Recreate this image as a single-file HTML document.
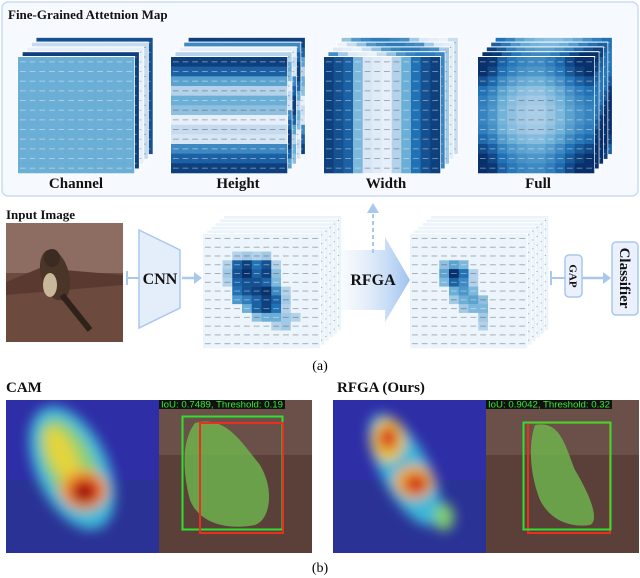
<!DOCTYPE html>
<html><head><meta charset="utf-8">
<style>
html,body{margin:0;padding:0;background:#fff;}
svg{display:block;}
.t{font-family:"Liberation Serif",serif;font-weight:bold;fill:#111;}
</style></head>
<body>
<svg id="fig" width="640" height="578" viewBox="0 0 640 578" xmlns="http://www.w3.org/2000/svg">
<defs>
  <linearGradient id="rfgaGrad" x1="0" x2="1" y1="0" y2="0">
    <stop offset="0" stop-color="#dbe8f8" stop-opacity="0.2"/>
    <stop offset="1" stop-color="#9fc3ef"/>
  </linearGradient>
  <filter id="blur6"><feGaussianBlur stdDeviation="6"/></filter>
  <filter id="blur3"><feGaussianBlur stdDeviation="3"/></filter>
  <clipPath id="clipCam"><rect x="6" y="400" width="153" height="153"/></clipPath>
  <clipPath id="clipRfga"><rect x="333" y="400" width="153" height="153"/></clipPath>
</defs>

<rect x="2" y="2" width="636" height="194" rx="6" fill="#f6f9fe" stroke="#c9dcf3" stroke-width="1.5"/>
<text class="t" x="8" y="19" font-size="13">Fine-Grained Attetnion Map</text>
<g id="stacks"></g>
<text class="t" x="76" y="188" font-size="15" text-anchor="middle">Channel</text>
<text class="t" x="238" y="188" font-size="15" text-anchor="middle">Height</text>
<text class="t" x="386" y="188" font-size="15" text-anchor="middle">Width</text>
<text class="t" x="538" y="188" font-size="15" text-anchor="middle">Full</text>

<text class="t" x="6" y="219" font-size="13">Input Image</text>
<g>
  <rect x="6" y="223" width="117" height="119" fill="#6d4a3e"/>
  <rect x="6" y="223" width="117" height="50" fill="#8d6d62"/>
  <polygon points="6,282 40,268 123,275 123,285 6,295" fill="#5a3a30"/>
  <ellipse cx="55" cy="275" rx="14" ry="26" fill="#4a3528" transform="rotate(-15 55 275)"/>
  <ellipse cx="52" cy="258" rx="8" ry="9" fill="#3b2b22"/>
  <ellipse cx="50" cy="285" rx="7" ry="12" fill="#c9b79a"/>
  <line x1="62" y1="295" x2="90" y2="330" stroke="#2e221b" stroke-width="6"/>
</g>
<line x1="127" y1="271" x2="127" y2="285" stroke="#a9c8ee" stroke-width="2"/>
<line x1="127" y1="278" x2="139" y2="278" stroke="#a9c8ee" stroke-width="2"/>
<polygon points="139,230 180,250 180,308 139,328" fill="#e4eefb" stroke="#a9c8ee" stroke-width="1.5"/>
<text class="t" x="160" y="284" font-size="16" text-anchor="middle">CNN</text>
<line x1="182" y1="278" x2="196" y2="278" stroke="#a9c8ee" stroke-width="2.5"/>
<polygon points="194,272 202,278 194,284" fill="#a9c8ee"/>
<g id="features"></g>
<polygon points="342,250 385,250 385,237 410,280 385,322 385,310 342,310" fill="url(#rfgaGrad)"/>
<text class="t" x="373" y="285" font-size="16" text-anchor="middle">RFGA</text>
<line x1="373" y1="253" x2="373" y2="212" stroke="#a9c8ee" stroke-width="2" stroke-dasharray="4,3"/>
<polygon points="367,213 373,203 379,213" fill="#a9c8ee"/>
<line x1="551" y1="271" x2="551" y2="285" stroke="#a9c8ee" stroke-width="2"/>
<line x1="551" y1="278" x2="565" y2="278" stroke="#a9c8ee" stroke-width="2"/>
<rect x="565" y="255" width="17" height="42" rx="4" fill="#eaf1fc" stroke="#a9c8ee" stroke-width="1.5"/>
<text class="t" x="573.5" y="276" font-size="11" text-anchor="middle" transform="rotate(90 573.5 276)" dy="4">GAP</text>
<line x1="582" y1="278" x2="605" y2="278" stroke="#a9c8ee" stroke-width="2.5"/>
<polygon points="603,272 611,278 603,284" fill="#a9c8ee"/>
<rect x="612" y="242" width="26" height="73" rx="4" fill="#eaf1fc" stroke="#a9c8ee" stroke-width="1.5"/>
<text class="t" x="625" y="278" font-size="15" text-anchor="middle" dy="5" transform="rotate(90 625 278)">Classifier</text>
<text x="320" y="370" font-size="14" text-anchor="middle" font-family="Liberation Serif,serif">(a)</text>

<text class="t" x="6" y="392" font-size="15">CAM</text>
<text class="t" x="337" y="392" font-size="15">RFGA (Ours)</text>

<g clip-path="url(#clipCam)">
  <rect x="6" y="400" width="153" height="153" fill="#2e2ea6"/>
  <rect x="6" y="480" width="153" height="73" fill="#2a3296"/>
  <g filter="url(#blur6)">
    <ellipse cx="72" cy="468" rx="36" ry="66" fill="#3fb8d8" transform="rotate(-25 72 468)"/>
    <ellipse cx="70" cy="465" rx="24" ry="50" fill="#8fd070" transform="rotate(-25 70 465)"/>
    <ellipse cx="62" cy="455" rx="13" ry="30" fill="#e4d43a" transform="rotate(-25 62 455)"/>
    <ellipse cx="84" cy="490" rx="24" ry="20" fill="#f0a030"/>
    <ellipse cx="85" cy="491" rx="16" ry="14" fill="#d8281a"/>
    <ellipse cx="84" cy="493" rx="9" ry="9" fill="#8c1410"/>
  </g>
</g>
<g>
  <rect x="159" y="400" width="153" height="153" fill="#5a4038"/>
  <rect x="159" y="400" width="153" height="55" fill="#6a5048"/>
  <path d="M195,423 C225,415 240,440 260,465 C275,490 270,520 255,525 C230,530 200,525 190,500 C182,470 182,440 195,423 Z" fill="#6fb24e" opacity="0.85"/>
  <rect x="182.5" y="416.5" width="100" height="113" fill="none" stroke="#30e030" stroke-width="2"/>
  <rect x="200" y="423" width="83" height="110" fill="none" stroke="#e83020" stroke-width="2"/>
  <rect x="159" y="400" width="126" height="9" fill="#111"/>
  <text x="161" y="407.5" font-size="9" fill="#2ef02e" font-family="Liberation Sans,sans-serif" textLength="122" lengthAdjust="spacingAndGlyphs">IoU: 0.7489, Threshold: 0.19</text>
</g>

<g clip-path="url(#clipRfga)">
  <rect x="333" y="400" width="153" height="153" fill="#2e2ea6"/>
  <rect x="333" y="480" width="153" height="73" fill="#2a3296"/>
  <g filter="url(#blur6)">
    <ellipse cx="405" cy="470" rx="24" ry="62" fill="#3fb8d8" transform="rotate(-28 405 470)"/>
    <ellipse cx="388" cy="440" rx="17" ry="22" fill="#e8c83a"/>
    <ellipse cx="388" cy="438" rx="10" ry="12" fill="#d83020"/>
    <ellipse cx="414" cy="482" rx="20" ry="17" fill="#eeb038"/>
    <ellipse cx="416" cy="484" rx="12" ry="10" fill="#d02818"/>
    <ellipse cx="444" cy="517" rx="10" ry="14" fill="#80d070"/>
  </g>
</g>
<g>
  <rect x="486" y="400" width="153" height="153" fill="#5a4038"/>
  <rect x="486" y="400" width="153" height="55" fill="#6a5048"/>
  <path d="M535,425 C560,420 565,445 575,470 C590,495 600,520 590,525 C570,528 550,520 540,500 C530,475 528,445 535,425 Z" fill="#6fb24e" opacity="0.85"/>
  <rect x="528" y="423" width="82" height="110" fill="none" stroke="#e83020" stroke-width="2"/>
  <rect x="523.5" y="422.5" width="87" height="107" fill="none" stroke="#30e030" stroke-width="2"/>
  <rect x="486" y="400" width="126" height="9" fill="#111"/>
  <text x="488" y="407.5" font-size="9" fill="#2ef02e" font-family="Liberation Sans,sans-serif" textLength="122" lengthAdjust="spacingAndGlyphs">IoU: 0.9042, Threshold: 0.32</text>
</g>
<text x="320" y="572" font-size="14" text-anchor="middle" font-family="Liberation Serif,serif">(b)</text>
</svg>

<script>
const heightRows = [0.95,0.85,0.6,0.35,0.55,0.45,0.1,0.3,0.2,0.7,0.85,0.95];
const widthCols  = [0.95,0.9,0.85,0.5,0.2,0.15,0.1,0.35,0.55,0.8,0.9,0.95];
const channelLayers = [0.75,0.95,0.1,0.3,0.9,0.5];
const fullRows = [0.9,0.8,0.6,0.4,0.3,0.25,0.25,0.3,0.45,0.65,0.8,0.9];
const fullCols = [0.9,0.75,0.5,0.35,0.25,0.2,0.2,0.3,0.45,0.65,0.8,0.9];
const feat1Blob = [[2,3,0.35],[2,4,0.4],[2,5,0.35],[2,6,0.4],[3,2,0.35],[3,3,0.85],[3,4,0.95],[3,5,0.8],[3,6,0.9],[3,7,0.35],
 [4,2,0.4],[4,3,0.9],[4,4,1.0],[4,5,0.85],[4,6,0.95],[4,7,0.45],[5,2,0.35],[5,3,0.85],[5,4,0.9],[5,5,0.9],[5,6,0.85],[5,7,0.5],
 [6,3,0.8],[6,4,0.9],[6,5,0.95],[6,6,1.0],[6,7,0.7],[6,8,0.35],[7,3,0.65],[7,4,0.75],[7,5,0.85],[7,6,0.95],[7,7,0.85],[7,8,0.4],
 [8,4,0.55],[8,5,0.85],[8,6,0.95],[8,7,0.8],[8,8,0.35],[9,5,0.45],[9,6,0.55],[9,7,0.55],[9,8,0.4],[9,9,0.35],[10,7,0.35],[10,8,0.4]];
const feat2Blob = [[3,3,0.45],[3,4,0.6],[3,5,0.5],[4,3,0.6],[4,4,1.0],[4,5,0.8],[4,6,0.35],[5,3,0.5],[5,4,0.85],[5,5,0.7],[5,6,0.35],
 [6,4,0.55],[6,5,0.65],[6,6,0.5],[7,4,0.4],[7,5,0.55],[7,6,0.6],[7,7,0.45],[8,5,0.4],[8,6,0.5],[8,7,0.5],[9,7,0.4],[10,7,0.35]];

const stops=[[0,[247,251,255]],[0.3,[198,219,239]],[0.55,[107,174,214]],[0.8,[33,113,181]],[1,[8,48,107]]];
function blues(v){v=Math.max(0,Math.min(1,v));for(let i=1;i<stops.length;i++){if(v<=stops[i][0]){const a=stops[i-1],b=stops[i];const t=(v-a[0])/(b[0]-a[0]);const c=a[1].map((x,k)=>Math.round(x+(b[1][k]-x)*t));return `rgb(${c})`;}}return 'rgb(8,48,107)';}
const NS='http://www.w3.org/2000/svg';
function mk(tag,attrs,parent){const e=document.createElementNS(NS,tag);for(const k in attrs)e.setAttribute(k,attrs[k]);parent.appendChild(e);return e;}

function layer(parent,x,y,w,h,rows,cols,fn,name){
  const g=mk('g',{},parent);
  
  
  mk('rect',{x:x-1,y:y-1,width:w+2,height:h+2,fill:'#fff'},g);
  const cw=w/cols,ch=h/rows;
  for(let r=0;r<rows;r++)for(let c=0;c<cols;c++){
    const v=fn(r,c);
    const cell=mk('rect',{x:(x+c*cw).toFixed(2),y:(y+r*ch).toFixed(2),width:(cw+0.3).toFixed(2),height:(ch+0.3).toFixed(2),fill:blues(v)},g);
    
    
    mk('rect',{x:(x+c*cw+cw*0.2).toFixed(2),y:(y+r*ch+ch*0.45).toFixed(2),width:(cw*0.6).toFixed(2),height:1,fill:v>0.45?'#ffffff':'#444',opacity:0.4},g);
  }
}
function stack(x,y,w,h,n,dx,dy,rows,cols,fnFront,fnBack,name){
  const g=mk('g',{},document.getElementById(name==='feature'?'features':'stacks'));
  
  
  for(let i=n-1;i>=0;i--){
    layer(g,x+i*dx,y+i*dy,w,h,rows,cols,i===0?fnFront:(r,c)=>fnBack(i,r,c),name+'-layer');
  }
}
stack(18,57,116,116,5,4.6,-4.8,12,12,()=>0.55,(i)=>channelLayers[i],'channel');
stack(171,57,116,116,5,4.4,-4.8,12,12,(r)=>heightRows[r],(i,r)=>heightRows[(r+i*3)%12],'height');
stack(324,57,116,116,5,4.4,-4.8,12,12,(r,c)=>widthCols[c],(i,r,c)=>widthCols[(c+i*2)%12]*0.8,'width');
stack(478,57,116,116,5,4.4,-4.8,12,12,(r,c)=>Math.min(1,(fullRows[r]+fullCols[c])/2+0.15),(i,r,c)=>Math.min(1,(fullRows[(r+i)%12]+fullCols[c])/2+0.2),'full');

function blobFn(list){const m={};list.forEach(([r,c,v])=>m[r+','+c]=v);return (r,c)=>m[r+','+c]!==undefined?m[r+','+c]:0.06;}
stack(203,234,117,114,6,4.2,-3.6,13,12,blobFn(feat1Blob),()=>0.07,'feature');
stack(410,234,117,114,6,4.2,-3.6,13,12,blobFn(feat2Blob),()=>0.07,'feature');
</script>
</body></html>
